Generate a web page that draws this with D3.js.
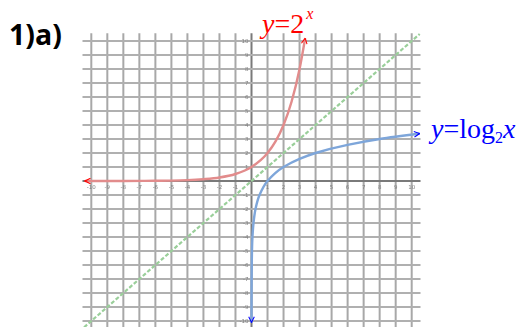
<!DOCTYPE html>
<html>
<head>
<meta charset="utf-8">
<script src="https://cdn.jsdelivr.net/npm/d3@7"></script>
<style>
  body { margin: 0; background: #fff; }
  svg { display: block; }
</style>
</head>
<body>
<div id="chart"></div>
<script>
// tick values on both axes
var xTicks = [-10,-9,-8,-7,-6,-5,-4,-3,-2,-1,1,2,3,4,5,6,7,8,9,10];
var yTicks = [-10,-9,-8,-7,-6,-5,-4,-3,-2,-1,1,2,3,4,5,6,7,8,9,10];

// y = 2^x
var expX = [-10.4,-8,-6,-5,-4,-3,-2,-1,0,1,1.5,2,2.5,3,3.35];
var expY = [0,0,0.02,0.03,0.06,0.13,0.25,0.5,1,2,2.83,4,5.66,8,10.2];

// y = log2 x
var logX = [0.0009,0.003,0.008,0.02,0.06,0.125,0.25,0.5,1,2,3,4,6,8,10.5];
var logY = [-10.1,-8.4,-7,-5.6,-4,-3,-2,-1,0,1,1.58,2,2.58,3,3.39];

// y = x
var lineX = [-10.45, 10.5];
var lineY = [-10.45, 10.5];

var divWidth = 526, divHeight = 327;

var svg = d3.select("#chart").append("svg")
    .attr("width", divWidth)
    .attr("height", divHeight);

var x = d3.scaleLinear().domain([-10, 10]).range([91.3, 411.7]),
    y = d3.scaleLinear().domain([10, -10]).range([41, 321]);

var gridMin = -10.55, gridMax = 10.55;

var defs = svg.append("defs");
defs.append("filter").attr("id", "soft")
  .append("feGaussianBlur").attr("stdDeviation", 0.6);

function marker(id, col) {
    defs.append("marker")
        .attr("id", id)
        .attr("viewBox", "0 0 10 10")
        .attr("refX", 9).attr("refY", 5)
        .attr("markerWidth", 7).attr("markerHeight", 7)
        .attr("markerUnits", "userSpaceOnUse")
        .attr("orient", "auto-start-reverse")
      .append("path")
        .attr("d", "M1,1 L9,5 L1,9")
        .attr("fill", "none")
        .attr("stroke", col)
        .attr("stroke-width", 1.5);
}
marker("arrRed", "#ff0000");
marker("arrBlue", "#0000ff");

var grid = svg.append("g").attr("filter", "url(#soft)");

var gridVals = d3.range(-10, 11);

grid.selectAll("line.v").data(gridVals).enter().append("line")
    .attr("class", "v")
    .attr("x1", function(d) { return x(d); })
    .attr("x2", function(d) { return x(d); })
    .attr("y1", y(gridMax)).attr("y2", y(gridMin))
    .attr("stroke", function(d) { return d === 0 ? "#7a7a7a" : "#a8a8a8"; })
    .attr("stroke-width", 2);

grid.selectAll("line.h").data(gridVals).enter().append("line")
    .attr("class", "h")
    .attr("y1", function(d) { return y(d); })
    .attr("y2", function(d) { return y(d); })
    .attr("x1", x(gridMin)).attr("x2", x(gridMax))
    .attr("stroke", function(d) { return d === 0 ? "#7a7a7a" : "#b0b0b0"; })
    .attr("stroke-width", 2);

// tiny tick labels
grid.selectAll("text.xt").data(xTicks).enter().append("text")
    .attr("class", "xt")
    .attr("x", function(d) { return x(d); })
    .attr("y", y(0) + 8)
    .attr("text-anchor", "middle")
    .attr("font-family", "DejaVu Sans")
    .attr("font-size", 5.5)
    .attr("fill", "#808080")
    .text(function(d) { return d; });

grid.selectAll("text.yt").data(yTicks).enter().append("text")
    .attr("class", "yt")
    .attr("x", x(0) - 3)
    .attr("y", function(d) { return y(d) + 2; })
    .attr("text-anchor", "end")
    .attr("font-family", "DejaVu Sans")
    .attr("font-size", 5.5)
    .attr("fill", "#808080")
    .text(function(d) { return d; });

function pts(xs, ys) {
    return xs.map(function(v, i) { return [v, ys[i]]; });
}

var line = d3.line()
    .x(function(d) { return x(d[0]); })
    .y(function(d) { return y(d[1]); });

var curves = svg.append("g").attr("filter", "url(#soft)");

curves.append("path")
    .datum(pts(lineX, lineY))
    .attr("d", line)
    .attr("fill", "none")
    .attr("stroke", "#9acf9a")
    .attr("stroke-width", 2.2)
    .attr("stroke-dasharray", "4,2");

curves.append("path")
    .datum(pts(expX, expY))
    .attr("d", line.curve(d3.curveMonotoneX))
    .attr("fill", "none")
    .attr("stroke", "#e28c8c")
    .attr("stroke-width", 2.4);

curves.append("path")
    .datum(pts(logX, logY))
    .attr("d", line.curve(d3.curveMonotoneY))
    .attr("fill", "none")
    .attr("stroke", "#7ea6da")
    .attr("stroke-width", 2.4);

// arrow heads at the curve ends (drawn crisp, pure colour)
var arrows = svg.append("g");
arrows.append("path")
    .datum(pts(expX, expY))
    .attr("d", line.curve(d3.curveMonotoneX))
    .attr("fill", "none").attr("stroke", "none")
    .attr("marker-start", "url(#arrRed)")
    .attr("marker-end", "url(#arrRed)");
arrows.append("path")
    .datum(pts(logX, logY))
    .attr("d", line.curve(d3.curveMonotoneY))
    .attr("fill", "none").attr("stroke", "none")
    .attr("marker-start", "url(#arrBlue)")
    .attr("marker-end", "url(#arrBlue)");

// labels
svg.append("text")
    .attr("x", 9).attr("y", 45)
    .attr("font-family", "Open Sans")
    .attr("font-weight", 700)
    .attr("font-size", 28.5)
    .attr("fill", "#000")
    .text("1)a)");

var t1 = svg.append("text")
    .attr("x", 262).attr("y", 33)
    .attr("font-family", "Liberation Serif")
    .attr("font-size", 28)
    .attr("fill", "#ff0000");
t1.append("tspan").attr("font-style", "italic").text("y");
t1.append("tspan").text("=2");
t1.append("tspan").attr("font-style", "italic").attr("font-size", 16).attr("dy", -14).attr("dx", 2).text("x");

var t2 = svg.append("text")
    .attr("x", 431).attr("y", 138)
    .attr("font-family", "Liberation Serif")
    .attr("font-size", 28)
    .attr("fill", "#0000ff");
t2.append("tspan").attr("font-style", "italic").text("y");
t2.append("tspan").text("=log");
t2.append("tspan").attr("font-size", 16).attr("dy", 5).text("2");
t2.append("tspan").attr("font-style", "italic").attr("dy", -5).text("x");
</script>
</body>
</html>
